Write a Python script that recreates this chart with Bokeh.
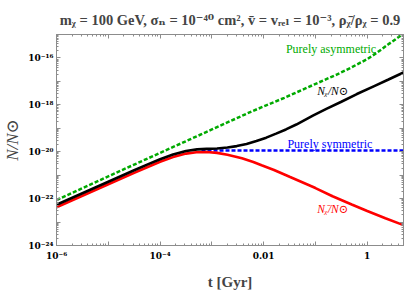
import numpy as np
from bokeh.plotting import figure
from bokeh.models import FixedTicker, CustomJSTickFormatter, LogAxis, Label
from bokeh.embed import file_html
from bokeh.resources import INLINE

# ---- data (log10 values) ----
red_logt = [-6.0, -5.5, -5.0, -4.5, -4.25, -4.0, -3.75, -3.5, -3.3, -3.1, -2.9, -2.7,
            -2.42, -2.2, -2.04, -1.8, -1.5, -1.0, -0.67, -0.3, 0.0, 0.35, 0.70]
red_logN = [-22.37, -21.88, -21.39, -20.90, -20.66, -20.43, -20.23, -20.08, -20.02, -20.01,
            -20.05, -20.13, -20.28, -20.44, -20.58, -20.78, -21.07, -21.55, -21.90, -22.25,
            -22.53, -22.84, -23.13]

black_logt = [-6.0, -5.5, -5.0, -4.5, -4.25, -4.0, -3.75, -3.5, -3.285, -3.1, -2.9, -2.7,
              -2.52, -2.33, -2.14, -1.95, -1.76, -1.57, -1.37, -1.05, -0.78, -0.51, -0.2,
              0.124, 0.4, 0.70]
black_logN = [-22.26, -21.77, -21.28, -20.79, -20.55, -20.32, -20.12, -19.97, -19.90, -19.88,
              -19.86, -19.82, -19.76, -19.67, -19.54, -19.40, -19.23, -19.05, -18.84, -18.46,
              -18.16, -17.88, -17.54, -17.21, -16.93, -16.62]

green_logt = [-6.0, -5.0, -4.0, -3.0, -2.23, -1.6, -0.96, -0.6, -0.32, 0.0, 0.19, 0.4, 0.6, 0.70]
green_logN = [-22.06, -21.05, -20.05, -19.05, -18.28, -17.70, -17.07, -16.72, -16.42, -16.05,
              -15.77, -15.43, -15.12, -14.97]

blue_logt = [-3.2, 0.70]
blue_logN = [-19.95, -19.95]

x_decades = list(range(-6, 1))
y_decades = list(range(-24, -14))

title_text = "mᵪ = 100 GeV, σₙ = 10⁻⁴⁰ cm², v̄ = vᵣₑₗ = 10⁻³, ρᵪ̄/ρᵪ = 0.9"

def tv(a):
    return [10.0 ** v for v in a]

serif = "'Liberation Serif', 'DejaVu Serif', serif"
tick_font = "'DejaVu Serif', serif"
frame_col = "#8c8c8c"

p = figure(width=405, height=292, x_axis_type="log", y_axis_type="log",
           x_range=(1e-6, 10 ** 0.7), y_range=(1e-24, 1e-15),
           output_backend="svg", toolbar_location=None,
           min_border_left=53, min_border_right=2, min_border_top=34, min_border_bottom=43)

p.title.text = title_text
p.title.align = "center"
p.title.text_font = serif
p.title.text_font_style = "bold"
p.title.text_font_size = "14.5px"
p.title.standoff = 14

p.xgrid.visible = False
p.ygrid.visible = False
p.outline_line_color = frame_col
p.background_fill_color = "white"
p.border_fill_color = "white"

x_major = [10.0 ** e for e in x_decades]
x_minor = [k * 10.0 ** e for e in x_decades for k in range(2, 10)]
y_major = [10.0 ** e for e in y_decades]
y_minor = [k * 10.0 ** e for e in y_decades for k in range(2, 10)]

sup_js = """
const m = {"-":"\u207b","0":"\u2070","1":"\u00b9","2":"\u00b2","3":"\u00b3","4":"\u2074","5":"\u2075","6":"\u2076","7":"\u2077","8":"\u2078","9":"\u2079"};
const e = Math.round(Math.log10(tick));
const s = String(e).split("").map(c => m[c]).join("");
"""
xfmt = CustomJSTickFormatter(code=sup_js + """
if (e % 2 != 0) return "";
if (e == -2) return "0.01";
if (e == 0) return "1";
return "10" + s;
""")
yfmt = CustomJSTickFormatter(code=sup_js + """
if (e % 2 != 0) return "";
return "10" + s;
""")
blank = CustomJSTickFormatter(code="return '';")

def style_axis(ax, labels=True):
    ax.axis_line_color = frame_col
    ax.major_tick_line_color = frame_col
    ax.minor_tick_line_color = frame_col
    ax.major_tick_in = 4
    ax.major_tick_out = 0
    ax.minor_tick_in = 2
    ax.minor_tick_out = 0
    if labels:
        ax.major_label_text_font = tick_font
        ax.major_label_text_font_style = "bold"
        ax.major_label_text_font_size = "9px"
        ax.major_label_text_color = "black"
    else:
        ax.major_label_text_font_size = "0px"
        ax.major_label_standoff = 0

xa = p.xaxis[0]
xa.ticker = FixedTicker(ticks=x_major, minor_ticks=x_minor)
xa.formatter = xfmt
style_axis(xa)
xa.major_label_standoff = 5
xa.axis_label = "t [Gyr]"
xa.axis_label_text_font = serif
xa.axis_label_text_font_style = "bold"
xa.axis_label_text_font_size = "15px"
xa.axis_label_standoff = 10

ya = p.yaxis[0]
ya.ticker = FixedTicker(ticks=y_major, minor_ticks=y_minor)
ya.formatter = yfmt
style_axis(ya)
ya.major_label_standoff = 3
ya.axis_label = "N/N⊙"
ya.axis_label_text_font = serif
ya.axis_label_text_font_style = "italic"
ya.axis_label_text_font_size = "17px"
ya.axis_label_standoff = 3

ra = LogAxis(ticker=FixedTicker(ticks=y_major, minor_ticks=y_minor), formatter=blank)
style_axis(ra, labels=False)
p.add_layout(ra, "right")
ta = LogAxis(ticker=FixedTicker(ticks=x_major, minor_ticks=x_minor), formatter=blank)
style_axis(ta, labels=False)
p.add_layout(ta, "above")

green = "#00aa00"
p.line(tv(blue_logt), tv(blue_logN), line_color="#0000ff", line_width=2.5, line_dash="4 2")
p.line(tv(red_logt), tv(red_logN), line_color="#ff0000", line_width=2.6)
p.line(tv(black_logt), tv(black_logN), line_color="black", line_width=2.6)
p.line(tv(green_logt), tv(green_logN), line_color=green, line_width=2.5, line_dash="4 2")

def lab(x, y, text, color, style="normal", size="12px"):
    p.add_layout(Label(x=x, y=y, text=text, text_align="center", text_baseline="middle",
                       text_color=color, text_font=serif, text_font_style=style,
                       text_font_size=size))

lab(0.2, 10 ** -15.63, "Purely asymmetric", green)
lab(0.19, 10 ** -19.69, "Purely symmetric", "#0000ff")
lab(0.216, 10 ** -17.43, "Nᵪ/N⊙", "black", "italic", "11.5px")
lab(0.216, 10 ** -22.45, "Nᵪ̄/N⊙", "#ff0000", "italic", "11.5px")

open("out.html", "w").write(file_html(p, INLINE))
